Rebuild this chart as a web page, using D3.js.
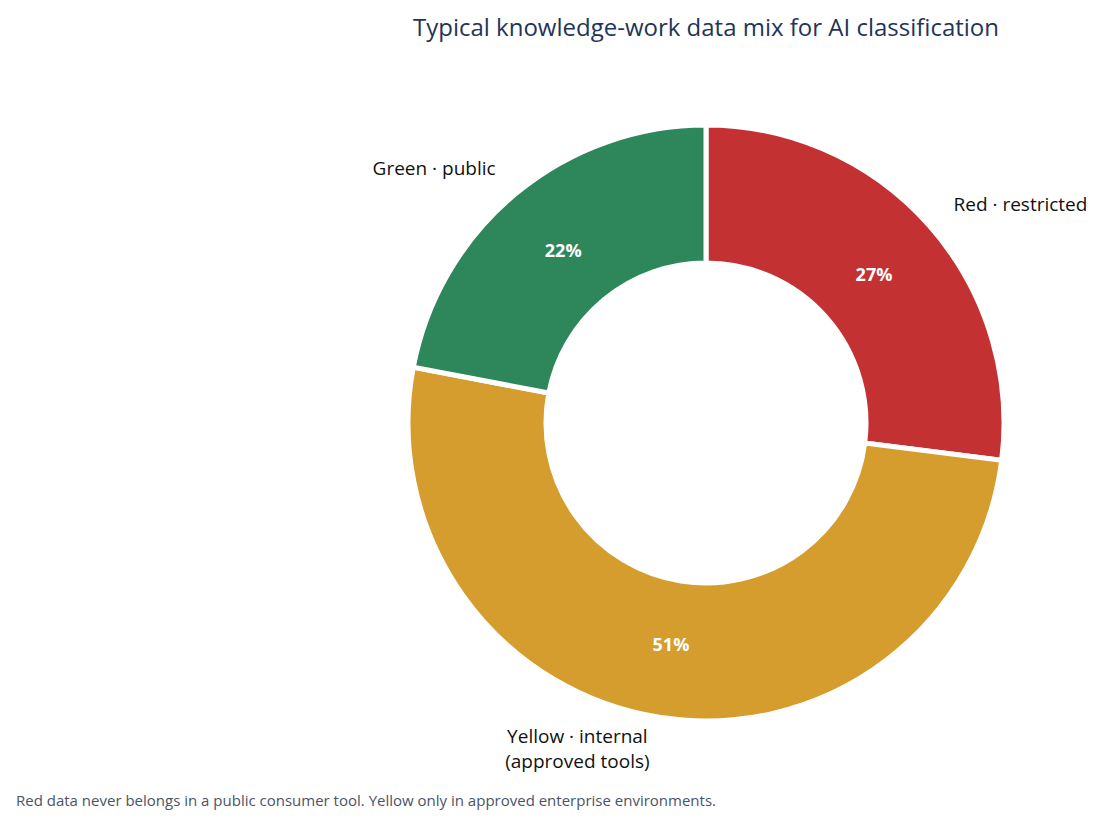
<!DOCTYPE html>
<html><head><meta charset="utf-8">
<script src="https://cdn.jsdelivr.net/npm/d3@7"></script>
<style>body{margin:0;background:#fff;font-family:"Open Sans","Noto Sans",sans-serif;}</style>
</head><body>
<svg id="chart" width="1115" height="826"></svg>
<script>
// Data
var categories = ["Red · restricted", "Yellow · internal\n(approved tools)", "Green · public"];
var shares = [27, 51, 22];
var colors = ["#c43133", "#d59d2e", "#2e865b"];

var svg = d3.select("#chart");
var cx = 706, cy = 423, outerR = 298, innerR = 160;

svg.append("text")
  .attr("x", 706).attr("y", 36)
  .attr("text-anchor", "middle")
  .style("font-size", "24px").style("fill", "#1f3558")
  .text("Typical knowledge-work data mix for AI classification");

var pie = d3.pie().sort(null).value(function(d){ return d; });
var arc = d3.arc().innerRadius(innerR).outerRadius(outerR);
var labelArc = d3.arc().innerRadius(224).outerRadius(224);
var outArc = d3.arc().innerRadius(330).outerRadius(330);

var g = svg.append("g").attr("transform", "translate(" + cx + "," + cy + ")");
var arcs = pie(shares);

g.selectAll("path").data(arcs).enter().append("path")
  .attr("d", arc)
  .style("fill", function(d, i){ return colors[i]; })
  .style("stroke", "#fff").style("stroke-width", 5);

g.selectAll("text.pct").data(arcs).enter().append("text")
  .attr("class", "pct")
  .attr("transform", function(d){ return "translate(" + labelArc.centroid(d) + ")"; })
  .attr("text-anchor", "middle").attr("dy", "0.35em")
  .style("fill", "#fff").style("font-weight", "bold").style("font-size", "18px")
  .text(function(d){ return d.data + "%"; });

g.selectAll("text.cat").data(arcs).enter().append("text")
  .attr("class", "cat")
  .attr("transform", function(d){ return "translate(" + outArc.centroid(d) + ")"; })
  .attr("text-anchor", function(d){
    var a = (d.startAngle + d.endAngle) / 2;
    return a < Math.PI ? "start" : "end";
  })
  .style("font-size", "19px").style("fill", "#111")
  .each(function(d, i){
    var lines = categories[i].split("\n");
    var t = d3.select(this);
    var start = -(lines.length - 1) / 2 * 1.3 + 0.35;
    lines.forEach(function(l, j){
      t.append("tspan").attr("x", 0).attr("dy", (j === 0 ? start : 1.3) + "em")
        .attr("text-anchor", lines.length > 1 ? "middle" : null)
        .attr("dx", lines.length > 1 ? -77 : 0)
        .text(l);
    });
  });

svg.append("text")
  .attr("x", 16).attr("y", 806)
  .style("font-size", "15px").style("fill", "#4a5468")
  .text("Red data never belongs in a public consumer tool. Yellow only in approved enterprise environments.");
</script>
</body></html>
